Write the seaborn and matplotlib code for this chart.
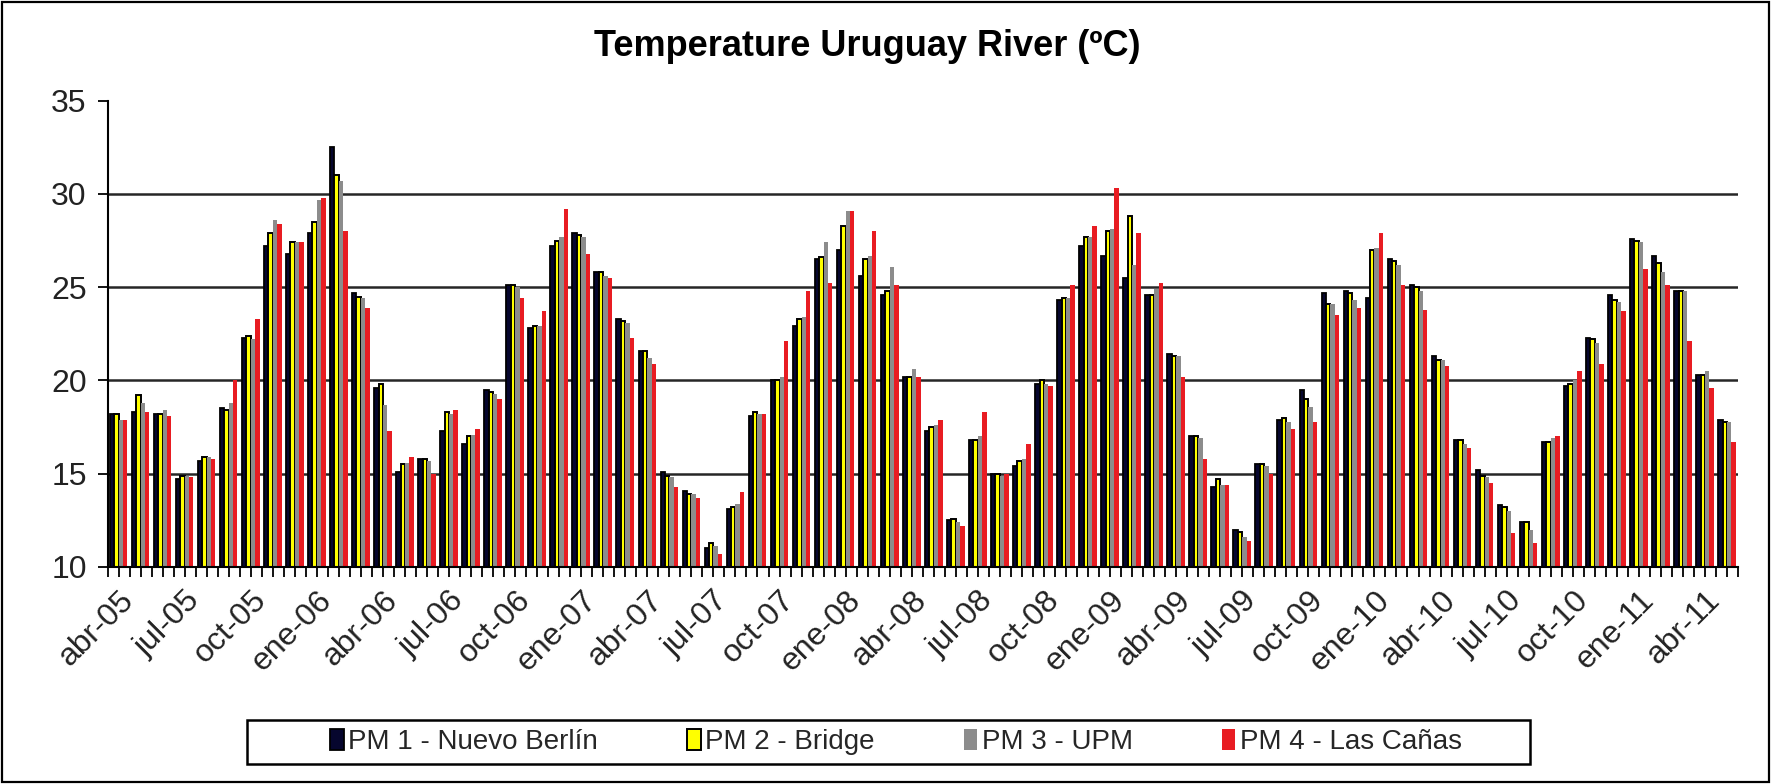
import pandas as pd
import seaborn as sns
import matplotlib.pyplot as plt
from matplotlib.patches import Rectangle

# monthly river temperature (ºC), abr-05 .. may-11
pm1 = [18.2, 18.3, 18.2, 14.7, 15.7, 18.5, 22.3, 27.2, 26.8, 27.9,
       32.5, 24.7, 19.6, 15.1, 15.8, 17.3, 16.6, 19.5, 25.1, 22.8,
       27.2, 27.9, 25.8, 23.3, 21.6, 15.1, 14.1, 11.0, 13.1, 18.1,
       20.0, 22.9, 26.5, 27.0, 25.6, 24.6, 20.2, 17.3, 12.5, 16.8,
       15.0, 15.4, 19.8, 24.3, 27.2, 26.7, 25.5, 24.6, 21.4, 17.0,
       14.3, 12.0, 15.5, 17.9, 19.5, 24.7, 24.8, 24.4, 26.5, 25.1,
       21.3, 16.8, 15.2, 13.3, 12.4, 16.7, 19.7, 22.3, 24.6, 27.6,
       26.7, 24.8, 20.3, 17.9]
pm2 = [18.2, 19.2, 18.2, 14.9, 15.9, 18.4, 22.4, 27.9, 27.4, 28.5,
       31.0, 24.5, 19.8, 15.5, 15.8, 18.3, 17.0, 19.4, 25.1, 22.9,
       27.5, 27.8, 25.8, 23.2, 21.6, 14.9, 13.9, 11.3, 13.2, 18.3,
       20.0, 23.3, 26.6, 28.3, 26.5, 24.8, 20.2, 17.5, 12.6, 16.8,
       15.0, 15.7, 20.0, 24.4, 27.7, 28.0, 28.8, 24.6, 21.3, 17.0,
       14.7, 11.9, 15.5, 18.0, 19.0, 24.1, 24.7, 27.0, 26.4, 25.0,
       21.1, 16.8, 14.9, 13.2, 12.4, 16.7, 19.8, 22.2, 24.3, 27.5,
       26.3, 24.8, 20.3, 17.8]
pm3 = [17.9, 18.8, 18.4, 14.9, 15.9, 18.8, 22.2, 28.6, 27.4, 29.7,
       30.7, 24.4, 18.7, 15.6, 15.7, 18.2, 17.1, 19.3, 25.0, 22.9,
       27.7, 27.7, 25.6, 23.1, 21.2, 14.8, 13.9, 11.1, 13.4, 18.2,
       20.2, 23.4, 27.4, 29.1, 26.7, 26.1, 20.6, 17.6, 12.4, 17.0,
       14.9, 15.8, 19.8, 24.4, 27.7, 28.1, 26.2, 24.9, 21.3, 16.9,
       14.4, 11.6, 15.4, 17.8, 18.6, 24.1, 24.3, 27.1, 26.2, 24.8,
       21.1, 16.6, 14.8, 13.0, 12.0, 16.9, 20.0, 22.0, 24.2, 27.4,
       25.8, 24.8, 20.5, 17.8]
pm4 = [17.9, 18.3, 18.1, 14.8, 15.8, 20.0, 23.3, 28.4, 27.4, 29.8,
       28.0, 23.9, 17.3, 15.9, 15.0, 18.4, 17.4, 19.0, 24.4, 23.7,
       29.2, 26.8, 25.5, 22.3, 20.9, 14.3, 13.7, 10.7, 14.0, 18.2,
       22.1, 24.8, 25.2, 29.1, 28.0, 25.1, 20.2, 17.9, 12.2, 18.3,
       15.0, 16.6, 19.7, 25.1, 28.3, 30.3, 27.9, 25.2, 20.2, 15.8,
       14.4, 11.4, 15.0, 17.4, 17.8, 23.5, 23.9, 27.9, 25.1, 23.8,
       20.8, 16.4, 14.5, 11.8, 11.3, 17.0, 20.5, 20.9, 23.7, 26.0,
       25.1, 22.1, 19.6, 16.7]

stations = ['PM 1 - Nuevo Berlín', 'PM 2 - Bridge', 'PM 3 - UPM', 'PM 4 - Las Cañas']
colors = ['#06062e', '#ffff00', '#8c8c8c', '#e81c22']
mes = ['ene', 'feb', 'mar', 'abr', 'may', 'jun', 'jul', 'ago', 'sep', 'oct', 'nov', 'dic']
months = [f'{mes[(3 + k) % 12]}-{5 + (3 + k) // 12:02d}' for k in range(len(pm1))]

df = pd.DataFrame({
    'month': months * 4,
    'temp': pm1 + pm2 + pm3 + pm4,
    'station': [s for s in stations for _ in months],
})

sns.set_theme(style='white')
plt.rcParams['font.family'] = ['Liberation Sans', 'DejaVu Sans']

W, H = 1771, 784
fig = plt.figure(figsize=(W / 100, H / 100), dpi=100)
ax = fig.add_axes([107.5 / W, 1 - 567 / H, (1738 - 107.5) / W, (567 - 100.7) / H])

sns.barplot(data=df, x='month', y='temp', hue='station', palette=colors,
            saturation=1, width=0.8, ax=ax, legend=False, linewidth=0)

for cont, ec, lw in zip(ax.containers, ['black', 'black', 'none', 'none'], [1.3, 1.4, 0, 0]):
    for p in cont:
        p.set_edgecolor(ec)
        p.set_linewidth(lw)

ax.set_ylim(10, 35)
ax.set_yticks(range(10, 36, 5))
ax.set_xlim(-0.5, len(months) - 0.5)
ax.set_xlabel('')
ax.set_ylabel('')

ax.set_xticks(range(len(months)))
ax.set_xticklabels([m if k % 3 == 0 else '' for k, m in enumerate(months)],
                   rotation=45, ha='right', rotation_mode='anchor')
ax.set_xticks([k - 0.5 for k in range(len(months) + 1)], minor=True)

ax.tick_params(axis='y', left=True, direction='out', length=7, width=1.3,
               color='black', labelsize=23, pad=8, labelcolor='#222222')
ax.tick_params(axis='x', which='both', bottom=True, direction='out', length=7,
               width=1.3, color='black')
ax.tick_params(axis='x', which='major', labelsize=23, pad=6, labelcolor='#222222')

for side in ['top', 'right']:
    ax.spines[side].set_visible(False)
for side in ['left', 'bottom']:
    ax.spines[side].set_color('black')
    ax.spines[side].set_linewidth(1.5)

ax.yaxis.grid(True, color='#262626', linewidth=1.8)
ax.set_axisbelow(True)
ax.get_ygridlines()[-1].set_visible(False)

fig.text(867 / W, 1 - 46 / H, 'Temperature Uruguay River (ºC)', ha='center', va='center',
         fontsize=26, fontweight='bold', color='black')

leg = ax.legend(ax.containers, stations, ncol=4, loc='center',
                bbox_to_anchor=(896 / W, 1 - 742 / H), bbox_transform=fig.transFigure,
                frameon=False, fontsize=20, handlelength=0.5, handleheight=0.8,
                handletextpad=0.15, columnspacing=3.2)

fig.patches.append(Rectangle((247 / W, 1 - 764 / H), (1530 - 247) / W, 44 / H,
                             transform=fig.transFigure, fill=False, ec='black', lw=1.8))
fig.patches.append(Rectangle((2 / W, 2 / H), 1 - 4 / W, 1 - 4 / H,
                             transform=fig.transFigure, fill=False, ec='black', lw=1.6))

fig.savefig('out.png', dpi=100)
